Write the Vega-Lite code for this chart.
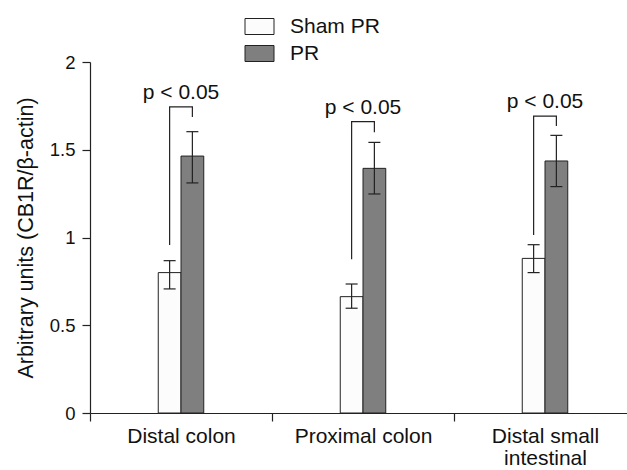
{
  "$schema": "https://vega.github.io/schema/vega-lite/v6.json",
  "width": 537,
  "height": 351,
  "autosize": {"type": "none"},
  "padding": {"left": 90, "top": 62, "right": 0, "bottom": 57},
  "background": "white",
  "config": {
    "view": {"stroke": null},
    "font": "Liberation Sans",
    "axis": {
      "domainColor": "#222",
      "tickColor": "#222",
      "labelColor": "#111",
      "titleColor": "#111",
      "labelFont": "Liberation Sans",
      "titleFont": "Liberation Sans",
      "labelFontSize": 18.5,
      "titleFontSize": 21.5,
      "titleFontWeight": "normal",
      "grid": false,
      "tickSize": 8,
      "domainWidth": 1.2,
      "tickWidth": 1.2
    },
    "legend": {
      "labelFont": "Liberation Sans",
      "labelFontSize": 21,
      "labelColor": "#111"
    }
  },
  "datasets": {
    "bars": [
      {"tissue": "Distal colon", "group": "Sham PR", "mean": 0.80, "lo": 0.707, "hi": 0.868},
      {"tissue": "Distal colon", "group": "PR", "mean": 1.464, "lo": 1.311, "hi": 1.603},
      {"tissue": "Proximal colon", "group": "Sham PR", "mean": 0.663, "lo": 0.597, "hi": 0.735},
      {"tissue": "Proximal colon", "group": "PR", "mean": 1.394, "lo": 1.248, "hi": 1.542},
      {"tissue": "Distal small intestinal", "group": "Sham PR", "mean": 0.881, "lo": 0.80, "hi": 0.959},
      {"tissue": "Distal small intestinal", "group": "PR", "mean": 1.436, "lo": 1.29, "hi": 1.582}
    ],
    "brackets": [
      {"tissue": "Distal colon", "group": "Sham PR", "y": 0.957, "seq": 1},
      {"tissue": "Distal colon", "group": "Sham PR", "y": 1.744, "seq": 2},
      {"tissue": "Distal colon", "group": "PR", "y": 1.744, "seq": 3},
      {"tissue": "Distal colon", "group": "PR", "y": 1.687, "seq": 4},
      {"tissue": "Proximal colon", "group": "Sham PR", "y": 0.876, "seq": 1},
      {"tissue": "Proximal colon", "group": "Sham PR", "y": 1.66, "seq": 2},
      {"tissue": "Proximal colon", "group": "PR", "y": 1.66, "seq": 3},
      {"tissue": "Proximal colon", "group": "PR", "y": 1.60, "seq": 4},
      {"tissue": "Distal small intestinal", "group": "Sham PR", "y": 1.014, "seq": 1},
      {"tissue": "Distal small intestinal", "group": "Sham PR", "y": 1.692, "seq": 2},
      {"tissue": "Distal small intestinal", "group": "PR", "y": 1.692, "seq": 3},
      {"tissue": "Distal small intestinal", "group": "PR", "y": 1.635, "seq": 4}
    ],
    "pvals": [
      {"tissue": "Distal colon", "y": 1.744, "label": "p < 0.05"},
      {"tissue": "Proximal colon", "y": 1.66, "label": "p < 0.05"},
      {"tissue": "Distal small intestinal", "y": 1.692, "label": "p < 0.05"}
    ]
  },
  "layer": [
    {
      "data": {"name": "bars"},
      "mark": {"type": "bar", "stroke": "#222", "strokeWidth": 1},
      "encoding": {
        "x": {
          "field": "tissue", "type": "nominal",
          "sort": ["Distal colon", "Proximal colon", "Distal small intestinal"],
          "scale": {"type": "band", "paddingInner": 0, "paddingOuter": 0, "range": [0, 546]},
          "axis": {
            "title": null, "labelAngle": 0, "tickBand": "extent",
            "labelPadding": 4, "labelLineHeight": 22, "labelBaseline": "top", "labelFontSize": 21,
            "labelExpr": "datum.label == 'Distal small intestinal' ? ['Distal small', 'intestinal'] : datum.label"
          }
        },
        "xOffset": {
          "field": "group", "type": "nominal",
          "scale": {"domain": ["_a", "_b", "_c", "Sham PR", "PR", "_d", "_e", "_f"], "paddingInner": 0, "paddingOuter": 0}
        },
        "y": {
          "field": "mean", "type": "quantitative",
          "scale": {"domain": [0, 2], "nice": false},
          "axis": {
            "title": "Arbitrary units (CB1R/β-actin)",
            "values": [0, 0.5, 1, 1.5, 2], "format": "~g",
            "labelPadding": 7, "titlePadding": 12
          }
        },
        "fill": {
          "field": "group", "type": "nominal",
          "scale": {"domain": ["Sham PR", "PR"], "range": ["#fcfcfc", "#7f7f7f"]},
          "legend": {
            "title": null, "orient": "none", "legendX": 159, "legendY": -46,
            "symbolType": "M-1.45,-0.8H1.45V0.8H-1.45Z", "symbolSize": 400,
            "symbolStrokeColor": "#222", "symbolStrokeWidth": 1, "symbolOpacity": 1,
            "labelOffset": 20, "rowPadding": 5, "padding": 0
          }
        }
      }
    },
    {
      "data": {"name": "bars"},
      "mark": {"type": "rule", "color": "#222", "strokeWidth": 1.2},
      "encoding": {
        "x": {"field": "tissue", "type": "nominal", "sort": ["Distal colon", "Proximal colon", "Distal small intestinal"]},
        "xOffset": {"field": "group", "type": "nominal"},
        "y": {"field": "lo", "type": "quantitative"},
        "y2": {"field": "hi"}
      }
    },
    {
      "data": {"name": "bars"},
      "mark": {"type": "tick", "orient": "horizontal", "size": 12, "thickness": 1.2, "color": "#222", "opacity": 1},
      "encoding": {
        "x": {"field": "tissue", "type": "nominal", "sort": ["Distal colon", "Proximal colon", "Distal small intestinal"]},
        "xOffset": {"field": "group", "type": "nominal"},
        "y": {"field": "lo", "type": "quantitative"}
      }
    },
    {
      "data": {"name": "bars"},
      "mark": {"type": "tick", "orient": "horizontal", "size": 12, "thickness": 1.2, "color": "#222", "opacity": 1},
      "encoding": {
        "x": {"field": "tissue", "type": "nominal", "sort": ["Distal colon", "Proximal colon", "Distal small intestinal"]},
        "xOffset": {"field": "group", "type": "nominal"},
        "y": {"field": "hi", "type": "quantitative"}
      }
    },
    {
      "data": {"name": "brackets"},
      "mark": {"type": "line", "color": "#222", "strokeWidth": 1.2},
      "encoding": {
        "x": {"field": "tissue", "type": "nominal", "sort": ["Distal colon", "Proximal colon", "Distal small intestinal"]},
        "xOffset": {"field": "group", "type": "nominal"},
        "y": {"field": "y", "type": "quantitative"},
        "detail": {"field": "tissue"},
        "order": {"field": "seq", "type": "quantitative"}
      }
    },
    {
      "data": {"name": "pvals"},
      "mark": {"type": "text", "fontSize": 21, "color": "#111", "dy": -8, "baseline": "alphabetic", "align": "center"},
      "encoding": {
        "x": {"field": "tissue", "type": "nominal", "sort": ["Distal colon", "Proximal colon", "Distal small intestinal"]},
        "y": {"field": "y", "type": "quantitative"},
        "text": {"field": "label"}
      }
    }
  ]
}
